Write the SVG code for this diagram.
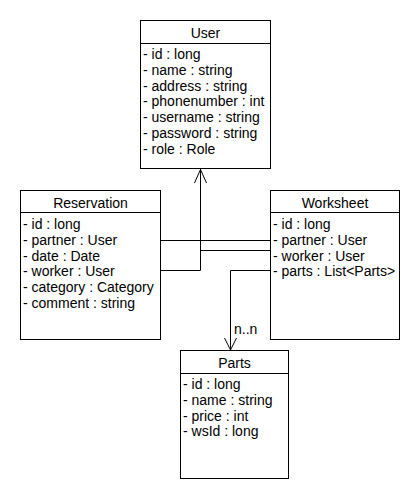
<svg xmlns="http://www.w3.org/2000/svg" width="420" height="490" viewBox="0 0 420 490">
<style>
.box{fill:#fff;stroke:#000;stroke-width:1}
.t{font-family:"Liberation Sans",Arial,sans-serif;font-size:14px;fill:#000}
.c{text-anchor:middle}
.ln{fill:none;stroke:#000;stroke-width:1}
</style>
<rect width="420" height="490" fill="#fff"/>
<g id="User">
<rect class="box" x="140.5" y="20.5" width="130" height="148"/>
<line class="ln" x1="140.5" y1="43.5" x2="270.5" y2="43.5"/>
<text class="t c" x="205.5" y="38">User</text>
<text class="t" x="143" y="59">- id : long</text>
<text class="t" x="143" y="75">- name : string</text>
<text class="t" x="143" y="90.5">- address : string</text>
<text class="t" x="143" y="106">- phonenumber : int</text>
<text class="t" x="143" y="122">- username : string</text>
<text class="t" x="143" y="138">- password : string</text>
<text class="t" x="143" y="154">- role : Role</text>
</g>
<g id="Reservation">
<rect class="box" x="20.5" y="190.5" width="140" height="149"/>
<line class="ln" x1="20.5" y1="212.5" x2="160.5" y2="212.5"/>
<text class="t c" x="90.5" y="208">Reservation</text>
<text class="t" x="23" y="229">- id : long</text>
<text class="t" x="23" y="245">- partner : User</text>
<text class="t" x="23" y="260.5">- date : Date</text>
<text class="t" x="23" y="276">- worker : User</text>
<text class="t" x="23" y="292">- category : Category</text>
<text class="t" x="23" y="308">- comment : string</text>
</g>
<g id="Worksheet">
<rect class="box" x="270.5" y="190.5" width="129" height="149"/>
<line class="ln" x1="270.5" y1="212.5" x2="399.5" y2="212.5"/>
<text class="t c" x="335" y="208">Worksheet</text>
<text class="t" x="273" y="229">- id : long</text>
<text class="t" x="273" y="245">- partner : User</text>
<text class="t" x="273" y="260.5">- worker : User</text>
<text class="t" x="273" y="276">- parts : List&lt;Parts&gt;</text>
</g>
<g id="Parts">
<rect class="box" x="180.5" y="350.5" width="108" height="128"/>
<line class="ln" x1="180.5" y1="373.5" x2="288.5" y2="373.5"/>
<text class="t c" x="234.5" y="368">Parts</text>
<text class="t" x="183" y="389">- id : long</text>
<text class="t" x="183" y="405">- name : string</text>
<text class="t" x="183" y="420.5">- price : int</text>
<text class="t" x="183" y="436">- wsId : long</text>
</g>
<g id="connectors">
<polyline class="ln" points="160.5,240.5 270.5,240.5"/>
<polyline class="ln" points="160.5,270.5 200.5,270.5 200.5,169"/>
<polyline class="ln" points="270.5,250.5 200.5,250.5"/>
<polyline class="ln" points="194.5,183 200.5,169.5 206.5,183"/>
<polyline class="ln" points="270.5,270.5 230.5,270.5 230.5,350"/>
<polyline class="ln" points="224.5,338 230.5,350 236.5,338"/>
<text class="t" x="234" y="334">n..n</text>
</g>
</svg>
